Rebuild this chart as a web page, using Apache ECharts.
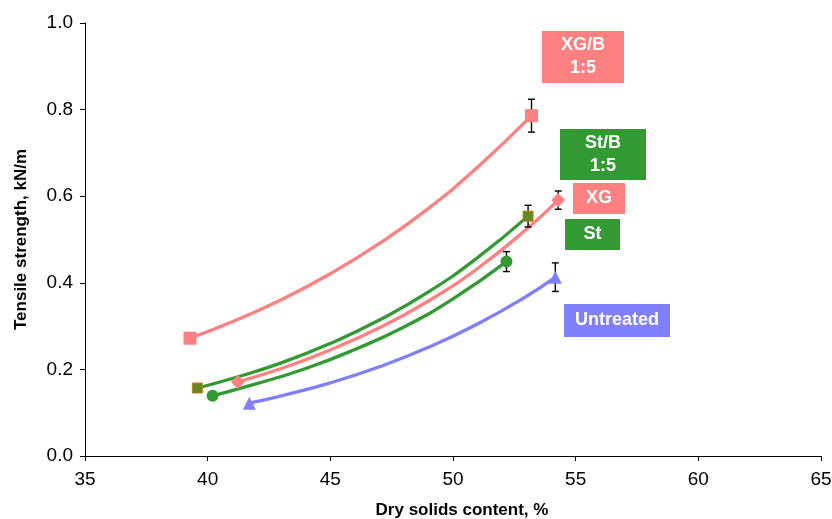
<!DOCTYPE html>
<html>
<head>
<meta charset="utf-8">
<script src="https://cdn.jsdelivr.net/npm/echarts@6/dist/echarts.min.js"></script>
<style>html,body{margin:0;padding:0;background:#fff}#c{width:832px;height:519px}</style>
</head>
<body>
<div id="c"></div>
<script>
// Measured points: [dry solids %, tensile strength kN/m, error]
const untreatedPts = [[41.7, 0.122, 0], [54.17, 0.413, 0.033]];
const stPts        = [[40.2, 0.139, 0], [52.18, 0.449, 0.023]];
const xgPts        = [[41.23, 0.171, 0], [54.29, 0.591, 0.021]];
const stbPts       = [[39.58, 0.157, 0], [53.06, 0.554, 0.025]];
const xgbPts       = [[39.28, 0.272, 0], [53.2, 0.786, 0.038]];

// Trendline points
const untreatedTrend = [[41.7,0.122],[43,0.139],[45,0.169],[47,0.206],[49,0.251],[51,0.305],[53,0.369],[54.17,0.413]];
const stTrend        = [[40.2,0.139],[42,0.167],[44,0.202],[46,0.246],[48,0.298],[50,0.363],[52.18,0.449]];
const xgTrend        = [[41.23,0.171],[43,0.202],[45,0.245],[47,0.296],[49,0.358],[51,0.433],[53,0.524],[54.29,0.591]];
const stbTrend       = [[39.58,0.157],[41,0.179],[43,0.215],[45,0.260],[47,0.314],[49,0.379],[51,0.458],[53.06,0.554]];
const xgbTrend       = [[39.28,0.272],[41,0.310],[43,0.361],[45,0.421],[47,0.491],[49,0.572],[51,0.667],[53.2,0.786]];

const seriesNames = ['Untreated', 'St', 'XG', 'St/B\n1:5', 'XG/B\n1:5'];

const SALMON = '#FF8080', GREEN = '#339933', BLUE = '#8080FF';
const FONT = '"Liberation Sans", Arial, sans-serif';

const chart = echarts.init(document.getElementById('c'), null, {renderer: 'canvas'});

function trend(name, data, color) {
  return {type: 'line', name: name, data: data, smooth: true, showSymbol: false, symbol: 'none',
    lineStyle: {color: color, width: 3.3}, z: 2, silent: true};
}
function pts(name, data, color, symbol, size, border) {
  return {type: 'scatter', name: name, data: data.map(p => [p[0], p[1]]), symbol: symbol, symbolSize: size,
    itemStyle: {color: color, opacity: 1, borderColor: border || color, borderWidth: border ? 1 : 0}, z: 5};
}
function errs(data) {
  return {type: 'custom', data: data.filter(p => p[2] > 0), z: 4, silent: true,
    renderItem: function (params, api) {
      const x = api.value(0), y = api.value(1), e = api.value(2);
      const top = api.coord([x, y + e]), bot = api.coord([x, y - e]);
      const w = 3.5;
      const st = {stroke: '#000', lineWidth: 1.4};
      return {type: 'group', children: [
        {type: 'line', shape: {x1: top[0], y1: top[1], x2: bot[0], y2: bot[1]}, style: st},
        {type: 'line', shape: {x1: top[0]-w, y1: top[1], x2: top[0]+w, y2: top[1]}, style: st},
        {type: 'line', shape: {x1: bot[0]-w, y1: bot[1], x2: bot[0]+w, y2: bot[1]}, style: st}
      ]};
    }};
}

function box(x, y, w, h, color, text) {
  return {type: 'group', left: x, top: y, children: [
    {type: 'rect', shape: {x: 0, y: 0, width: w, height: h}, style: {fill: color}},
    {type: 'text', x: w / 2, y: h / 2, style: {text: text, fill: '#fff', font: 'bold 18px ' + FONT,
      textAlign: 'center', textVerticalAlign: 'middle', lineHeight: 23}}
  ]};
}

chart.setOption({
  animation: false,
  backgroundColor: '#fff',
  grid: {left: 85, right: 11, top: 23, bottom: 63, containLabel: false, outerBoundsMode: 'none'},
  xAxis: {
    type: 'value', min: 35, max: 65, interval: 5,
    name: 'Dry solids content, %', nameLocation: 'middle', nameGap: 46,
    nameTextStyle: {fontFamily: FONT, fontWeight: 'bold', fontSize: 17, color: '#000', padding: [0, 0, 0, 18]},
    axisLine: {lineStyle: {color: '#000', width: 1}},
    axisTick: {show: true, length: 5, lineStyle: {color: '#000'}},
    axisLabel: {fontFamily: FONT, fontSize: 19, color: '#000', margin: 14},
    splitLine: {show: false}
  },
  yAxis: {
    type: 'value', min: 0, max: 1, interval: 0.2,
    name: 'Tensile strength, kN/m', nameLocation: 'middle', nameGap: 55,
    nameTextStyle: {fontFamily: FONT, fontWeight: 'bold', fontSize: 17, color: '#000'},
    axisLine: {show: true, lineStyle: {color: '#000', width: 1}},
    axisTick: {show: true, length: 5, lineStyle: {color: '#000'}},
    axisLabel: {fontFamily: FONT, fontSize: 19, color: '#000', margin: 12,
      formatter: v => v.toFixed(1)},
    splitLine: {show: false}
  },
  series: [
    trend(seriesNames[4], xgbTrend, SALMON),
    trend(seriesNames[3], stbTrend, GREEN),
    trend(seriesNames[2], xgTrend, SALMON),
    trend(seriesNames[1], stTrend, GREEN),
    trend(seriesNames[0], untreatedTrend, BLUE),
    errs(xgbPts), errs(stbPts), errs(xgPts), errs(stPts), errs(untreatedPts),
    pts(seriesNames[4], xgbPts, SALMON, 'rect', 13),
    pts(seriesNames[3], stbPts, '#5f8a1d', 'rect', 10, '#c07a20'),
    pts(seriesNames[2], xgPts, SALMON, 'diamond', 14),
    pts(seriesNames[1], stPts, GREEN, 'circle', 12),
    pts(seriesNames[0], untreatedPts, BLUE, 'triangle', 13)
  ],
  graphic: [
    box(542, 31, 82, 52, SALMON, seriesNames[4]),
    box(560, 129, 86, 51, GREEN, seriesNames[3]),
    box(573, 183, 52, 31, SALMON, 'XG'),
    box(565, 219, 55, 31, GREEN, 'St'),
    box(564, 304, 106, 33, BLUE, 'Untreated')
  ]
});
</script>
</body>
</html>
